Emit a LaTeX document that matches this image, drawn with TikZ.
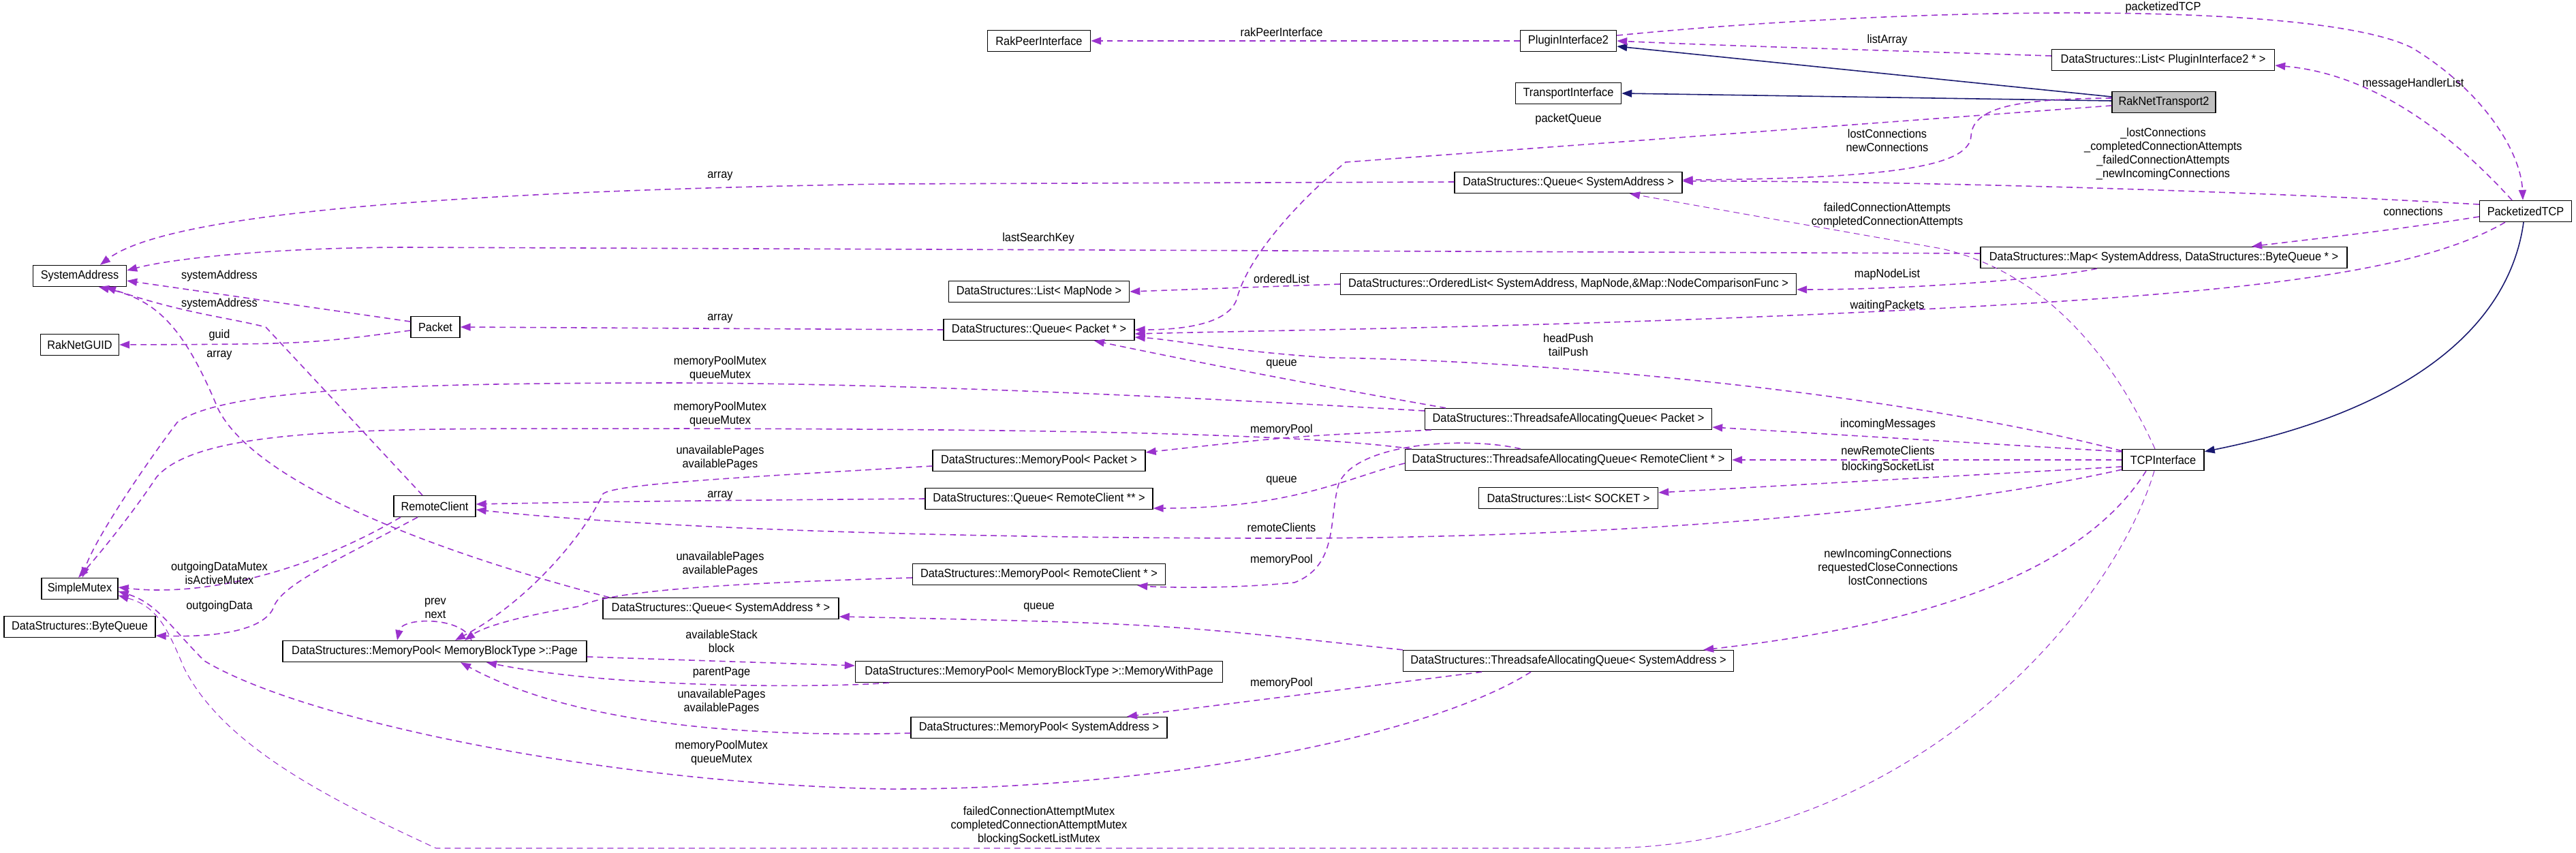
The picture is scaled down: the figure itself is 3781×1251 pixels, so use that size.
\documentclass[tikz,border=0pt]{standalone}
\usepackage{fontspec}
\setmainfont{Liberation Sans}[FakeStretch=0.93]
\usetikzlibrary{arrows.meta,calc}
\definecolor{depc}{HTML}{9A32CD}
\definecolor{inhc}{HTML}{191970}
\tikzset{
  cls/.style={draw=black, fill=white, line width=0.8pt, minimum height=0.62cm, inner xsep=3pt, inner ysep=0pt, font=\fontsize{10}{11.4}\selectfont},
  wd/.style={minimum width=#1*0.02cm},
  dep/.style={draw=depc, line width=0.9pt, dash pattern=on 5pt off 3.5pt, -{Stealth[length=0.3cm,width=0.22cm,inset=0pt,fill=depc]}},
  thin dep/.style={dep, line width=0.6pt},
  inh/.style={draw=inhc, line width=0.9pt, -{Stealth[length=0.3cm,width=0.22cm,inset=0pt,fill=inhc]}},
  lbl/.style={align=center, inner sep=0pt, font=\fontsize{10}{11.4}\selectfont}
}
\begin{document}
\begin{tikzpicture}[x=0.02cm,y=-0.02cm]
\useasboundingbox (0,0) rectangle (3781,1251);
\fill[white] (0,0) rectangle (3781,1251);
% nodes
\node[cls,wd=151] (RPI) at (1525,60) {RakPeerInterface};
\node[cls,wd=141] (PI2) at (2302,60) {PluginInterface2};
\node[cls,wd=155] (TI) at (2302,137) {TransportInterface};
\node[cls,wd=327] (LPI) at (3175,88) {DataStructures::List< PluginInterface2 * >};
\node[cls,wd=152,fill={rgb,255:red,191;green,191;blue,191}] (RNT) at (3176,150) {RakNetTransport2};
\node[cls,wd=334] (QSA) at (2302,268) {DataStructures::Queue< SystemAddress >};
\node[cls,wd=135] (PTCP) at (3707,310) {PacketizedTCP};
\node[cls,wd=538] (MAP) at (3176,378) {DataStructures::Map< SystemAddress, DataStructures::ByteQueue * >};
\node[cls,wd=137] (SA) at (117,405) {SystemAddress};
\node[cls,wd=265] (LMN) at (1525,428) {DataStructures::List< MapNode >};
\node[cls,wd=669] (OL) at (2302,417) {DataStructures::OrderedList< SystemAddress, MapNode,\&Map::NodeComparisonFunc >};
\node[cls,wd=72] (PK) at (639,480) {Packet};
\node[cls,wd=115] (RG) at (117,506) {RakNetGUID};
\node[cls,wd=280] (QP) at (1525,484) {DataStructures::Queue< Packet * >};
\node[cls,wd=421] (TSAQP) at (2302,615) {DataStructures::ThreadsafeAllocatingQueue< Packet >};
\node[cls,wd=312] (MPP) at (1525,676) {DataStructures::MemoryPool< Packet >};
\node[cls,wd=479] (TSAQRC) at (2302,675) {DataStructures::ThreadsafeAllocatingQueue< RemoteClient * >};
\node[cls,wd=120] (TCP) at (3175,675) {TCPInterface};
\node[cls,wd=334] (QRC) at (1525,732) {DataStructures::Queue< RemoteClient ** >};
\node[cls,wd=263] (LSOCK) at (2302,731) {DataStructures::List< SOCKET >};
\node[cls,wd=120] (RC) at (638,743) {RemoteClient};
\node[cls,wd=371] (MPRC) at (1525,843) {DataStructures::MemoryPool< RemoteClient * >};
\node[cls,wd=112] (SM) at (117,864) {SimpleMutex};
\node[cls,wd=222] (BQ) at (117,920) {DataStructures::ByteQueue};
\node[cls,wd=346] (QSAS) at (1058,893) {DataStructures::Queue< SystemAddress * >};
\node[cls,wd=446] (PG) at (638,956) {DataStructures::MemoryPool< MemoryBlockType >::Page};
\node[cls,wd=539] (MWP) at (1525,986) {DataStructures::MemoryPool< MemoryBlockType >::MemoryWithPage};
\node[cls,wd=485] (TSAQSA) at (2302,970) {DataStructures::ThreadsafeAllocatingQueue< SystemAddress >};
\node[cls,wd=376] (MPSA) at (1525,1068) {DataStructures::MemoryPool< SystemAddress >};

% inheritance
\draw[inh] ($(RNT.west)+(0,-8)$) -- ($(PI2.east)+(0,8)$);
\draw[inh] ($(RNT.west)+(0,-2)$) -- (TI.east);
\draw[inh] ($(PTCP.south)+(-3,0)$) .. controls (3680,500) and (3500,610) .. ($(TCP.north east)+(0,4)$);

% dependencies
\draw[dep] (PI2.west) -- (RPI.east);
\draw[dep] ($(LPI.west)+(0,-6)$) .. controls (2700,72) and (2500,66) .. ($(PI2.east)+(0,0)$);
\draw[dep] ($(PI2.east)+(0,-8)$) .. controls (2800,10) and (3400,0) .. (3540,70) .. controls (3640,130) and (3700,220) .. ($(PTCP.north)+(-4,0)$);
\draw[dep] ($(PTCP.north)+(-20,0)$) .. controls (3620,220) and (3500,110) .. ($(LPI.east)+(0,8)$);
\draw[dep] ($(RNT.west)+(0,5)$) -- (1975,238) .. controls (1900,300) and (1830,380) .. (1815,440) .. controls (1800,480) and (1720,484) .. ($(QP.east)+(0,0)$);
\draw[dep] ($(RNT.west)+(0,-6)$) .. controls (2950,145) and (2895,160) .. (2893,200) .. controls (2890,240) and (2800,262) .. ($(QSA.east)+(0,-4)$);
\draw[dep] ($(PTCP.west)+(0,-10)$) .. controls (3200,275) and (2700,265) .. ($(QSA.east)+(0,-2)$);
\draw[dep] ($(QSA.west)+(0,-1)$) -- (1300,270) .. controls (700,280) and (250,310) .. ($(SA.north)+(30,0)$);
\draw[dep] ($(MAP.west)+(0,-6)$) -- (600,363) .. controls (400,363) and (250,380) .. ($(SA.east)+(0,-8)$);
\draw[dep] ($(PTCP.west)+(0,8)$) .. controls (3500,340) and (3400,350) .. ($(MAP.north)+(129,0)$);
\draw[dep] ($(MAP.south)+(-98,0)$) .. controls (3000,410) and (2800,425) .. ($(OL.east)+(0,8)$);
\draw[dep] (OL.west) -- (LMN.east);
\draw[dep] ($(PTCP.south)+(-30,0)$) .. controls (3550,400) and (3300,430) .. (2800,455) .. controls (2300,480) and (1900,484) .. ($(QP.east)+(0,6)$);
\draw[thin dep] ($(TCP.north)+(-12,0)$) .. controls (3100,520) and (3000,400) .. (2850,365) .. controls (2650,330) and (2480,300) .. ($(QSA.south)+(90,0)$);
\draw[dep] ($(PK.west)+(0,-8)$) -- ($(SA.east)+(0,7)$);
\draw[dep] ($(PK.west)+(0,5)$) .. controls (450,505) .. (RG.east);
\draw[dep] (QP.west) -- (PK.east);
\draw[dep] ($(RC.north)+(-18,0)$) -- (390,480) .. controls (330,465) and (270,460) .. ($(SA.south)+(38,0)$);
\draw[dep] ($(QSAS.north west)+(10,0)$) .. controls (600,800) and (370,700) .. (320,600) .. controls (270,480) and (230,440) .. ($(SA.south)+(28,0)$);
\draw[dep] ($(TSAQP.north)+(-180,0)$) .. controls (1900,560) and (1750,530) .. ($(QP.south)+(81,0)$);
\draw[dep] ($(TCP.north west)+(0,3)$) .. controls (2800,580) and (2300,530) .. (1950,525) .. controls (1800,515) and (1720,498) .. ($(QP.east)+(0,11)$);
\draw[dep] ($(TSAQP.west)+(0,-12)$) .. controls (1700,580) and (1300,563) .. (1000,562) .. controls (600,562) and (330,570) .. (260,620) .. controls (200,700) and (135,800) .. ($(SM.north)+(4,0)$);
\draw[dep] ($(TSAQRC.north west)+(10,0)$) .. controls (1900,635) and (1500,630) .. (1000,629) .. controls (600,630) and (300,620) .. (230,700) .. controls (190,760) and (140,820) .. ($(SM.north)+(-2,0)$);
\draw[dep] ($(TSAQP.south west)+(10,0)$) .. controls (1900,640) .. ($(MPP.east)+(0,-12)$);
\draw[dep] ($(TCP.west)+(0,-12)$) -- ($(TSAQP.east)+(0,12)$);
\draw[dep] (TCP.west) -- (TSAQRC.east);
\draw[dep] ($(TCP.west)+(0,10)$) -- ($(LSOCK.east)+(0,-8)$);
\draw[dep] ($(TCP.south west)+(0,-2)$) .. controls (2800,760) and (2300,790) .. (1881,790) .. controls (1300,790) and (900,770) .. ($(RC.east)+(0,5)$);
\draw[dep] ($(TSAQRC.west)+(0,5)$) .. controls (1980,700) and (1900,746) .. ($(QRC.east)+(0,14)$);
\draw[dep] (QRC.west) .. controls (1100,734) and (900,736) .. ($(RC.east)+(0,-3)$);
\draw[dep] ($(TSAQRC.north)+(-70,0)$) .. controls (2150,640) and (1990,650) .. (1965,710) .. controls (1950,760) and (1965,830) .. (1900,855) .. controls (1800,865) and (1700,862) .. ($(MPRC.south east)+(-42,0)$);
\draw[dep] ($(MPP.west)+(0,8)$) .. controls (1100,700) and (900,710) .. (885,725) .. controls (860,780) and (780,880) .. ($(PG.north)+(30,0)$);
\draw[dep] ($(MPRC.west)+(0,5)$) .. controls (1100,855) and (900,865) .. (850,890) .. controls (760,905) and (710,920) .. ($(PG.north)+(44,0)$);
\draw[dep] ($(PG.north)+(54,0)$) .. controls (680,905) and (590,905) .. ($(PG.north)+(-55,0)$);
\draw[dep] ($(PG.east)+(0,8)$) -- ($(MWP.west)+(0,-9)$);
\draw[dep] ($(MWP.south west)+(50,0)$) .. controls (1200,1010) and (900,1010) .. ($(PG.south)+(76,0)$);
\draw[dep] ($(MPSA.west)+(0,8)$) .. controls (1000,1085) and (800,1040) .. ($(PG.south)+(38,0)$);
\draw[dep] (TSAQSA.north west) .. controls (1700,915) .. ($(QSAS.east)+(0,12)$);
\draw[dep] ($(TSAQSA.south)+(-127,0)$) -- ($(MPSA.north)+(129,0)$);
\draw[dep] ($(TSAQSA.south)+(-55,0)$) .. controls (2100,1080) and (1700,1160) .. (1300,1158) .. controls (900,1150) and (450,1060) .. (300,970) .. controls (250,920) and (230,885) .. ($(SM.east)+(0,4)$);
\draw[thin dep] ($(TCP.south)+(-13,0)$) .. controls (3100,900) and (2800,1245) .. (2350,1245) -- (640,1245) .. controls (500,1180) and (330,1100) .. (270,980) .. controls (245,920) and (230,890) .. ($(SM.east)+(0,10)$);
\draw[dep] ($(TCP.south)+(-25,0)$) .. controls (3050,850) and (2800,920) .. ($(TSAQSA.north east)+(-45,0)$);
\draw[dep] ($(RC.south)+(-50,0)$) .. controls (450,840) and (300,876) .. ($(SM.east)+(0,-2)$);
\draw[dep] ($(RC.south)+(-25,0)$) .. controls (480,830) and (410,860) .. (400,895) .. controls (380,930) and (300,935) .. ($(BQ.east)+(0,13)$);

% labels
\node[lbl] (l1) at (1881,47) {rakPeerInterface};
\node[lbl] (l2) at (3175,11) {packetizedTCP};
\node[lbl] (l3) at (2770,59) {listArray};
\node[lbl] (l4) at (3542,123) {messageHandlerList};
\node[lbl] (l5) at (2302,175) {packetQueue};
\node[lbl] (l6) at (2770,206) {lostConnections\\newConnections};
\node[lbl] (l7) at (3175,226) {\_lostConnections\\\_completedConnectionAttempts\\\_failedConnectionAttempts\\\_newIncomingConnections};
\node[lbl] (l8) at (1057,259) {array};
\node[lbl] (l9) at (2770,316) {failedConnectionAttempts\\completedConnectionAttempts};
\node[lbl] (l10) at (3542,310) {connections};
\node[lbl] (l11) at (1524,350) {lastSearchKey};
\node[lbl] (l12) at (2770,403) {mapNodeList};
\node[lbl] (l13) at (1881,409) {orderedList};
\node[lbl] (l14) at (322,405) {systemAddress};
\node[lbl] (l15) at (322,446) {systemAddress};
\node[lbl] (l16) at (2770,449) {waitingPackets};
\node[lbl] (l17) at (1057,468) {array};
\node[lbl] (l18) at (322,492) {guid};
\node[lbl] (l19) at (2302,506) {headPush\\tailPush};
\node[lbl] (l20) at (322,522) {array};
\node[lbl] (l21) at (1057,541) {memoryPoolMutex\\queueMutex};
\node[lbl] (l22) at (1881,535) {queue};
\node[lbl] (l23) at (1057,608) {memoryPoolMutex\\queueMutex};
\node[lbl] (l24) at (2771,623) {incomingMessages};
\node[lbl] (l25) at (1881,631) {memoryPool};
\node[lbl] (l26) at (2771,661) {newRemoteClients};
\node[lbl] (l27) at (1057,672) {unavailablePages\\availablePages};
\node[lbl] (l28) at (2771,686) {blockingSocketList};
\node[lbl] (l29) at (1881,706) {queue};
\node[lbl] (l30) at (1057,728) {array};
\node[lbl] (l31) at (1881,774) {remoteClients};
\node[lbl] (l32) at (1881,822) {memoryPool};
\node[lbl] (l33) at (2771,832) {newIncomingConnections\\requestedCloseConnections\\lostConnections};
\node[lbl] (l34) at (1057,828) {unavailablePages\\availablePages};
\node[lbl] (l35) at (322,841) {outgoingDataMutex\\isActiveMutex};
\node[lbl] (l36) at (322,890) {outgoingData};
\node[lbl] (l37) at (639,893) {prev\\next};
\node[lbl] (l38) at (1525,892) {queue};
\node[lbl] (l39) at (1059,941) {availableStack\\block};
\node[lbl] (l40) at (1059,987) {parentPage};
\node[lbl] (l41) at (1881,1003) {memoryPool};
\node[lbl] (l42) at (1059,1030) {unavailablePages\\availablePages};
\node[lbl] (l43) at (1059,1105) {memoryPoolMutex\\queueMutex};
\node[lbl] (l44) at (1525,1212) {failedConnectionAttemptMutex\\completedConnectionAttemptMutex\\blockingSocketListMutex};
\end{tikzpicture}
\end{document}
